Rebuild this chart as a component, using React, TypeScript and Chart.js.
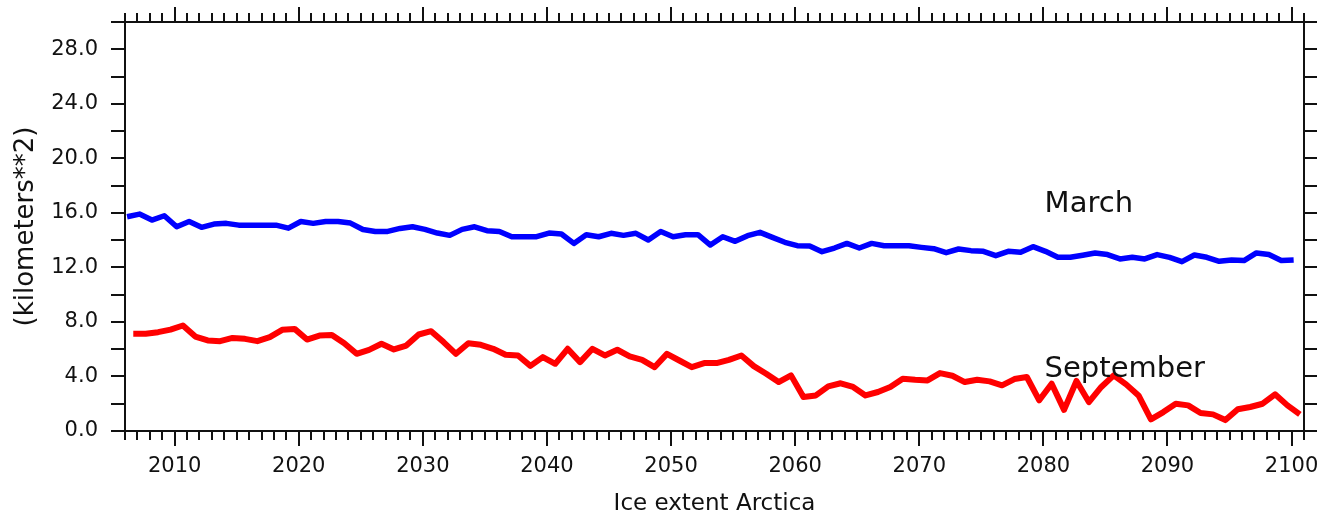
import React, { useEffect, useRef } from "react";
import { Chart, registerables } from "chart.js";

Chart.register(...registerables);

// ---- data ----
const YEARS = [
  2006, 2007, 2008, 2009, 2010, 2011, 2012, 2013, 2014, 2015,
  2016, 2017, 2018, 2019, 2020, 2021, 2022, 2023, 2024, 2025,
  2026, 2027, 2028, 2029, 2030, 2031, 2032, 2033, 2034, 2035,
  2036, 2037, 2038, 2039, 2040, 2041, 2042, 2043, 2044, 2045,
  2046, 2047, 2048, 2049, 2050, 2051, 2052, 2053, 2054, 2055,
  2056, 2057, 2058, 2059, 2060, 2061, 2062, 2063, 2064, 2065,
  2066, 2067, 2068, 2069, 2070, 2071, 2072, 2073, 2074, 2075,
  2076, 2077, 2078, 2079, 2080, 2081, 2082, 2083, 2084, 2085,
  2086, 2087, 2088, 2089, 2090, 2091, 2092, 2093, 2094, 2095,
  2096, 2097, 2098, 2099, 2100,
];

const MARCH_EXTENT = [
  15.72, 15.91, 15.47, 15.79, 14.98, 15.37, 14.94, 15.18, 15.23, 15.10,
  15.10, 15.10, 15.10, 14.88, 15.37, 15.23, 15.37, 15.37, 15.25, 14.78,
  14.64, 14.64, 14.86, 14.98, 14.79, 14.52, 14.35, 14.79, 14.98, 14.69,
  14.64, 14.25, 14.25, 14.25, 14.52, 14.45, 13.76, 14.40, 14.25, 14.50,
  14.35, 14.50, 14.01, 14.64, 14.25, 14.40, 14.40, 13.64, 14.25, 13.91,
  14.33, 14.57, 14.20, 13.84, 13.59, 13.57, 13.15, 13.42, 13.76, 13.42,
  13.76, 13.59, 13.59, 13.59, 13.47, 13.37, 13.08, 13.35, 13.23, 13.18,
  12.86, 13.18, 13.11, 13.52, 13.18, 12.74, 12.74, 12.89, 13.06, 12.94,
  12.62, 12.74, 12.62, 12.94, 12.74, 12.42, 12.91, 12.74, 12.45, 12.54,
  12.50, 13.06, 12.94, 12.50, 12.54,
];

const SEPTEMBER_EXTENT = [
  7.13, 7.13, 7.25, 7.44, 7.74, 6.93, 6.64, 6.59, 6.83, 6.76,
  6.59, 6.88, 7.42, 7.49, 6.71, 7.00, 7.05, 6.44, 5.66, 5.95,
  6.40, 5.98, 6.27, 7.08, 7.32, 6.52, 5.66, 6.44, 6.32, 6.03,
  5.59, 5.54, 4.78, 5.42, 4.93, 6.03, 5.05, 6.03, 5.54, 5.96,
  5.47, 5.22, 4.68, 5.66, 5.17, 4.68, 4.98, 4.98, 5.22, 5.54,
  4.76, 4.20, 3.59, 4.08, 2.49, 2.61, 3.27, 3.50, 3.23, 2.61,
  2.86, 3.23, 3.84, 3.76, 3.71, 4.25, 4.05, 3.59, 3.76, 3.64,
  3.35, 3.81, 3.96, 2.25, 3.47, 1.55, 3.67, 2.12, 3.23, 4.08,
  3.42, 2.61, 0.85, 1.39, 2.00, 1.88, 1.32, 1.22, 0.80, 1.59,
  1.76, 2.00, 2.69, 1.88, 1.22,
];

const MARCH_MONTH = 3;
const SEPTEMBER_MONTH = 9;

const X_MIN = 2006;
const X_MAX = 2101;
const X_LABEL_STEP = 10;
const Y_MIN = 0;
const Y_MAX = 30;
const Y_LABEL_STEP = 4;
const Y_MINOR_STEP = 2;

const X_TITLE = "Ice extent Arctica";
const Y_TITLE = "(kilometers**2)";

const SERIES_LABELS = [
  { text: "March", year: 2080.1, value: 16.6 },
  { text: "September", year: 2080.1, value: 4.5 },
];

const FONT = '"DejaVu Sans", sans-serif';
const INK = "#111111";

function toPoints(values: number[], month: number) {
  return YEARS.map((yr, i) => ({ x: yr + (month - 1) / 12, y: values[i] }));
}

function fixBox(size: { width?: number; height?: number }) {
  return (s: any) => {
    if (size.width !== undefined) s.width = size.width;
    if (size.height !== undefined) s.height = size.height;
    s.paddingTop = 0;
    s.paddingBottom = 0;
    s.paddingLeft = 0;
    s.paddingRight = 0;
  };
}

const framePlugin = {
  id: "gradsFrame",
  afterDraw(chart: any) {
    const ctx = chart.ctx as CanvasRenderingContext2D;
    const xs = chart.scales.x;
    const ys = chart.scales.y;
    const { left, right, top, bottom } = chart.chartArea;
    ctx.save();
    ctx.strokeStyle = INK;
    ctx.lineWidth = 2;
    ctx.lineCap = "butt";
    ctx.strokeRect(left, top, right - left, bottom - top);
    ctx.beginPath();
    for (let yr = Math.ceil(xs.min); yr <= xs.max; yr++) {
      const px = Math.round(xs.getPixelForValue(yr));
      const len = yr % X_LABEL_STEP === 0 ? 15 : 9;
      ctx.moveTo(px, top);
      ctx.lineTo(px, top - len);
      ctx.moveTo(px, bottom);
      ctx.lineTo(px, bottom + len);
    }
    for (let v = Y_MIN; v <= ys.max; v += Y_MINOR_STEP) {
      const py = Math.round(ys.getPixelForValue(v));
      ctx.moveTo(left - 14, py);
      ctx.lineTo(left, py);
      ctx.moveTo(right, py);
      ctx.lineTo(right + 13, py);
    }
    ctx.stroke();
    ctx.fillStyle = INK;
    ctx.font = `29px ${FONT}`;
    ctx.textAlign = "left";
    ctx.textBaseline = "middle";
    for (const lab of SERIES_LABELS) {
      ctx.fillText(lab.text, xs.getPixelForValue(lab.year), ys.getPixelForValue(lab.value));
    }
    ctx.restore();
  },
};

export default function App() {
  const canvasRef = useRef<HTMLCanvasElement | null>(null);

  useEffect(() => {
    const canvas = canvasRef.current;
    if (!canvas) return;
    const chart = new Chart(canvas, {
      type: "line",
      data: {
        datasets: [
          {
            label: "March",
            data: toPoints(MARCH_EXTENT, MARCH_MONTH),
            borderColor: "#0000ff",
            backgroundColor: "#0000ff",
            borderWidth: 5.5,
            pointRadius: 0,
            tension: 0,
            borderJoinStyle: "round",
            xAxisID: "x",
            yAxisID: "y",
          },
          {
            label: "September",
            data: toPoints(SEPTEMBER_EXTENT, SEPTEMBER_MONTH),
            borderColor: "#ff0000",
            backgroundColor: "#ff0000",
            borderWidth: 6,
            pointRadius: 0,
            tension: 0,
            borderJoinStyle: "round",
            xAxisID: "x",
            yAxisID: "y",
          },
        ],
      },
      options: {
        animation: false,
        responsive: false,
        devicePixelRatio: 1,
        layout: { padding: 0 },
        plugins: {
          legend: { display: false },
          tooltip: { enabled: false },
          title: { display: false },
        },
        scales: {
          x: {
            type: "linear",
            position: "bottom",
            min: X_MIN,
            max: X_MAX,
            grid: { display: false, drawTicks: false },
            border: { display: false },
            ticks: {
              stepSize: X_LABEL_STEP,
              includeBounds: false,
              autoSkip: false,
              maxRotation: 0,
              padding: 23,
              color: INK,
              font: { family: FONT, size: 21 },
              callback: (v: any) => String(v),
            },
            title: {
              display: true,
              text: X_TITLE,
              color: INK,
              font: { family: FONT, size: 23, lineHeight: 1 },
              padding: { top: 0, bottom: 0 },
            },
            afterFit: fixBox({ height: 85 }),
          },
          xTop: {
            type: "linear",
            position: "top",
            min: X_MIN,
            max: X_MAX,
            grid: { display: false, drawTicks: false },
            border: { display: false },
            ticks: { display: false },
            afterFit: fixBox({ height: 22 }),
          },
          y: {
            type: "linear",
            position: "left",
            min: Y_MIN,
            max: Y_MAX,
            grid: { display: false, drawTicks: false },
            border: { display: false },
            ticks: {
              stepSize: Y_LABEL_STEP,
              includeBounds: false,
              autoSkip: false,
              padding: 27,
              color: INK,
              font: { family: FONT, size: 21 },
              callback: (v: any) => Number(v).toFixed(1),
            },
            title: {
              display: true,
              text: Y_TITLE,
              color: INK,
              font: { family: FONT, size: 26, lineHeight: 1 },
              padding: { top: 13, bottom: 0 },
            },
            afterFit: fixBox({ width: 125 }),
          },
          yRight: {
            type: "linear",
            position: "right",
            min: Y_MIN,
            max: Y_MAX,
            grid: { display: false, drawTicks: false },
            border: { display: false },
            ticks: { display: false },
            afterFit: fixBox({ width: 32 }),
          },
        },
      },
      plugins: [framePlugin],
    } as any);
    return () => chart.destroy();
  }, []);

  return (
    <div style={{ position: "fixed", left: 0, top: 0, width: 1336, height: 516, background: "#ffffff" }}>
      <canvas ref={canvasRef} width={1336} height={516} style={{ width: 1336, height: 516, display: "block" }} />
    </div>
  );
}
